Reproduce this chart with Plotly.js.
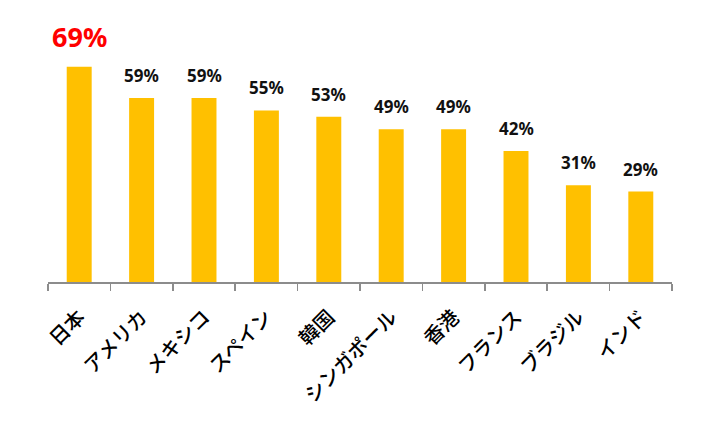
<!DOCTYPE html>
<html><head><meta charset="utf-8">
<script src="https://cdn.plot.ly/plotly-3.0.1.min.js"></script>
<style>html,body{margin:0;padding:0;background:#fff;}</style>
</head><body>
<div id="chart" style="width:720px;height:423px;"></div>
<script>
const categories = ["日本","アメリカ","メキシコ","スペイン","韓国","シンガポール","香港","フランス","ブラジル","インド"];
const values = [69,59,59,55,53,49,49,42,31,29];
const labels = ["69%","59%","59%","55%","53%","49%","49%","42%","31%","29%"];
const labelColors = ["#FF0000","#111111","#111111","#111111","#111111","#111111","#111111","#111111","#111111","#111111"];
const labelSizes = [27,17,17,17,17,17,17,17,17,17];

const annotations = categories.map((c,i)=>({
  x: c, y: values[i], xref:'x', yref:'y', text: labels[i], showarrow:false,
  yanchor:'bottom', yshift: i===0 ? 10 : 9,
  font:{family:'"Noto Sans", "DejaVu Sans", sans-serif', size:labelSizes[i], color:labelColors[i], weight:'bold'}
}));

Plotly.newPlot('chart', [{
  type:'bar', x:categories, y:values,
  marker:{color:'#FFC000'}, hoverinfo:'none'
}], {
  width:720, height:423,
  margin:{l:48, r:48, t:20, b:141},
  paper_bgcolor:'#fff', plot_bgcolor:'#fff',
  bargap:0.6,
  showlegend:false,
  xaxis:{type:'category', showline:true, linecolor:'#8c8c8c', linewidth:1.5,
    ticks:'outside', tickson:'boundaries', ticklen:7, tickcolor:'#8c8c8c', tickwidth:1.5,
    tickangle:-45, showgrid:false, ticklabelstandoff:14,
    tickfont:{family:'"Noto Sans CJK JP", sans-serif', size:20, color:'#000', weight:500}},
  yaxis:{range:[0,84], visible:false, showgrid:false, zeroline:false},
  annotations: annotations
}, {staticPlot:true});
</script>
</body></html>
